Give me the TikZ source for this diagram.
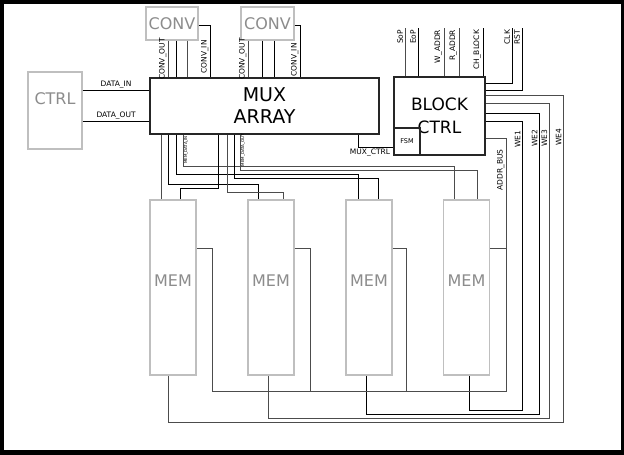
\documentclass[tikz,border=0pt]{standalone}
\usepackage{fontspec}
\setmainfont{DejaVu Sans}
\usetikzlibrary{positioning,calc}

\tikzset{
  blk/.style={draw=black!85,line width=1.1pt,inner sep=0pt},
  gblk/.style={draw=black!25,line width=1.4pt,inner sep=0pt},
  gname/.style={text=black!45,font=\fontsize{16}{16}\selectfont},
  wire/.style={line width=1pt,black},
  gwire/.style={line width=1pt,black!70},
  sig/.style={text=black,font=\fontsize{7.5}{8}\selectfont,inner sep=1.5pt},
  vsig/.style={sig,rotate=90},
  tinysig/.style={text=black,font=\fontsize{4}{4}\selectfont,inner sep=1pt,rotate=90},
}

\begin{document}
\begin{tikzpicture}[x=1pt,y=-1pt]
\useasboundingbox (0,0) rectangle (624,455);
% frame
\fill[black] (0,0) rectangle (624,455);
\fill[white] (4,4) rectangle (621,450);

% blocks
\node[gblk,minimum width=54,minimum height=77] (ctrl) at (55,110.5) {};
\node[gname] (ctrltxt) at ([yshift=12pt]ctrl.center) {CTRL};
\node[gblk,gname,minimum width=52,minimum height=33] (conv1) at (172,23.5) {CONV};
\node[gblk,gname,minimum width=53,minimum height=33] (conv2) at (267.5,23.5) {CONV};
\node[blk,minimum width=229,minimum height=56,align=center,
  font=\fontsize{19}{22}\selectfont] (mux) at (264.5,106) {MUX\\ARRAY};
\node[blk,minimum width=91,minimum height=78,align=center,
  font=\fontsize{17}{23}\selectfont] (block) at (439.5,116) {BLOCK\\CTRL};
\node[blk,minimum width=26,minimum height=27,anchor=south west,
  font=\fontsize{6.5}{7}\selectfont] (fsm) at (block.south west) {FSM};
\foreach \i/\x in {1/173,2/271,3/369,4/466.5}{
  \node[gblk,minimum width=46,minimum height=175] (mem\i) at (\x,287.5) {};
  \node[gname] (memtxt\i) at ([yshift=7pt]mem\i.center) {MEM};
}

% ctrl <-> mux
\draw[wire] (ctrl.east |- 0,90) -- node[sig,above] (ldin) {DATA\_IN} (mux.west |- 0,90);
\draw[wire] (ctrl.east |- 0,121) -- node[sig,above] (ldout) {DATA\_OUT} (mux.west |- 0,121);

% conv <-> mux
\foreach \x/\s in {168/gwire,176/wire,187/gwire}
  \draw[\s] (conv1.south -| \x,0) -- (mux.north -| \x,0);
\draw[wire] (conv1.east |- 0,25) -| (mux.north -| 210,0);
\node[vsig,anchor=south] (lco1) at (168,59) {CONV\_OUT};
\node[vsig,anchor=south] (lci1) at (210,57) {CONV\_IN};
\foreach \x/\s in {248/gwire,262/wire,274/wire}
  \draw[\s] (conv2.south -| \x,0) -- (mux.north -| \x,0);
\draw[wire] (conv2.east |- 0,25) -| (mux.north -| 300,0);
\node[vsig,anchor=south] (lco2) at (248,59) {CONV\_OUT};
\node[vsig,anchor=south] (lci2) at (300,60) {CONV\_IN};

% block ctrl inputs
\foreach \x/\t/\s in {405/SoP/gwire,418/EoP/wire,444/W\_ADDR/gwire,459/R\_ADDR/gwire,483/CH\_BLOCK/wire}
  \draw[\s] (block.north -| \x,0) -- (\x,28) node[vsig,anchor=south east] (top\x) {\t};
\draw[wire] (block.east |- 0,83) -| (512,28) node[vsig,anchor=south east] (lclk) {CLK};
\draw[wire] (block.east |- 0,90) -| (522,28) node[vsig,anchor=south east] (lrst) {RST};
\draw[wire] (mux.south -| 358,0) |- (fsm.west |- 0,147);
\node[sig] (lmuxc) at (370,153) {MUX\_CTRL};

% write enables
\draw[wire] (block.east |- 0,121) -| (522,410) -| (mem4.south -| 469,0);
\draw[wire] (block.east |- 0,113) -| (539,414) -| (mem3.south -| 366,0);
\draw[gwire] (block.east |- 0,103) -| (549,418) -| (mem2.south -| 268,0);
\draw[gwire] (block.east |- 0,95) -| (563,422) -| (mem1.south -| 168,0);
\node[vsig,anchor=south] (lwe1) at (522,139) {WE1};
\node[vsig,anchor=south] (lwe2) at (539,138) {WE2};
\node[vsig,anchor=south] (lwe3) at (549,138) {WE3};
\node[vsig,anchor=south] (lwe4) at (563,137) {WE4};

% address bus
\draw[gwire] (block.east |- 0,138) -| (506,391) -- (212,391) |- (mem1.east |- 0,248);
\foreach \i/\x in {2/310,3/406,4/506}
  \draw[gwire] (mem\i.east |- 0,248) -| (\x,391);
\node[vsig,anchor=south] (laddr) at (506,170) {ADDR\_BUS};

% mux <-> mem
\draw[gwire] (mux.south -| 161,0) -- (mem1.north -| 161,0);
\foreach \x/\y/\t/\s/\m in {168/184/258/wire/2,176/174/358/wire/3,183/166/454/gwire/4,
    218/188/180/wire/1,227/192/283/gwire/2,234/178/378/wire/3,240/170/477/gwire/4}
  \draw[\s] (mux.south -| \x,0) |- (\t,\y) -- (mem\m.north -| \t,0);
\node[tinysig,anchor=north] (lmdi) at (183,150) {MEM\_DATA\_IN};
\node[tinysig,anchor=north] (lmdo) at (240,150) {MEM\_DATA\_OUT};
\end{tikzpicture}
\end{document}
